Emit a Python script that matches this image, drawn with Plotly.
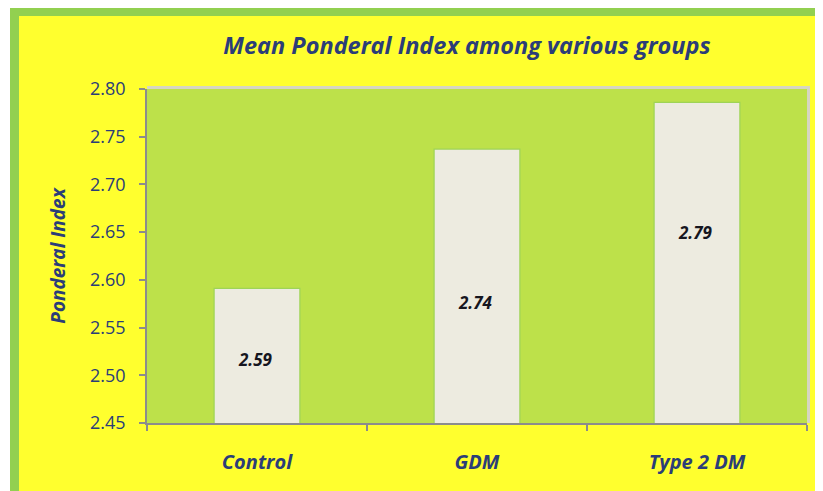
import plotly.graph_objects as go

categories = ["Control", "GDM", "Type 2 DM"]
values = [2.591, 2.737, 2.786]
value_labels = ["2.59", "2.74", "2.79"]
label_y = [2.517, 2.576, 2.650]
y_ticks = [2.45, 2.50, 2.55, 2.60, 2.65, 2.70, 2.75, 2.80]

# page body has an 8px margin; figure coordinates are offset accordingly
OFF = 8
W, H = 823 - OFF, 491 - OFF
L, R, T, B = 147 - OFF, 807 - OFF, 89 - OFF, 423 - OFF

def px(x):
    return (x - OFF - L) / (R - L)

def py(y):
    return (B - (y - OFF)) / (B - T)

FONT = "Open Sans"
TXT = "#2B3D78"

fig = go.Figure()
fig.add_trace(go.Bar(
    x=categories, y=values, width=0.39,
    marker=dict(color="#EDEBE0", line=dict(color="#9ED456", width=1.2)),
    hoverinfo="skip",
))

for c, t, yy in zip(categories, value_labels, label_y):
    fig.add_annotation(x=c, y=yy, text=f"<b><i>{t}</i></b>", showarrow=False,
                       xshift=-2, font=dict(family=FONT, size=17, color="#16161F"))

shapes = [
    dict(type="rect", xref="paper", yref="paper", x0=px(0), x1=px(830), y0=py(0), y1=py(7),
         fillcolor="white", line=dict(width=0), layer="below"),
    dict(type="rect", xref="paper", yref="paper", x0=px(0), x1=px(10), y0=py(0), y1=py(500),
         fillcolor="white", line=dict(width=0), layer="below"),
    dict(type="rect", xref="paper", yref="paper", x0=px(10), x1=px(830), y0=py(7), y1=py(16),
         fillcolor="#92D050", line=dict(width=0), layer="below"),
    dict(type="rect", xref="paper", yref="paper", x0=px(10), x1=px(19), y0=py(7), y1=py(500),
         fillcolor="#92D050", line=dict(width=0), layer="below"),
    dict(type="line", xref="paper", yref="paper", x0=0, x1=px(809), y0=py(87.5), y1=py(87.5),
         line=dict(color="#D6D6C2", width=3)),
    dict(type="line", xref="paper", yref="paper", x0=px(808.5), x1=px(808.5), y0=0, y1=py(86),
         line=dict(color="#D6D6C2", width=3)),
]
fig.update_layout(shapes=shapes)

fig.update_layout(
    width=W, height=H,
    margin=dict(l=L, r=W - R, t=T, b=H - B),
    paper_bgcolor="#FFFF2E",
    plot_bgcolor="#BDE14A",
    showlegend=False,
    title=dict(text="<b><i>Mean Ponderal Index among various groups</i></b>",
               x=(467 - OFF) / W, xanchor="center", y=1 - (46 - OFF) / H, yanchor="middle",
               font=dict(family=FONT, size=23.5, color=TXT)),
    xaxis=dict(
        showgrid=False, showline=True, linecolor="#8C8C8C", linewidth=1.5,
        ticks="outside", ticklen=6, tickcolor="#8C8C8C", tickwidth=1.5,
        tickson="boundaries",
        tickfont=dict(family=FONT, size=20, color=TXT),
        tickvals=categories, ticktext=[f"<b><i>{c}</i></b>" for c in categories],
        ticklabelstandoff=20,
    ),
    yaxis=dict(
        range=[2.45, 2.80], tickvals=y_ticks, ticktext=[f"{v:.2f}" for v in y_ticks],
        showgrid=False, showline=True, linecolor="#8C8C8C", linewidth=1.5,
        ticks="outside", ticklen=6, tickcolor="#8C8C8C", tickwidth=1.5,
        tickfont=dict(family=FONT, size=18, color=TXT),
        ticklabelstandoff=10,
        title=dict(text="<b><i>Ponderal Index</i></b>", standoff=19,
                   font=dict(family=FONT, size=19, color=TXT)),
        zeroline=False,
    ),
)

fig.write_html("out.html")
